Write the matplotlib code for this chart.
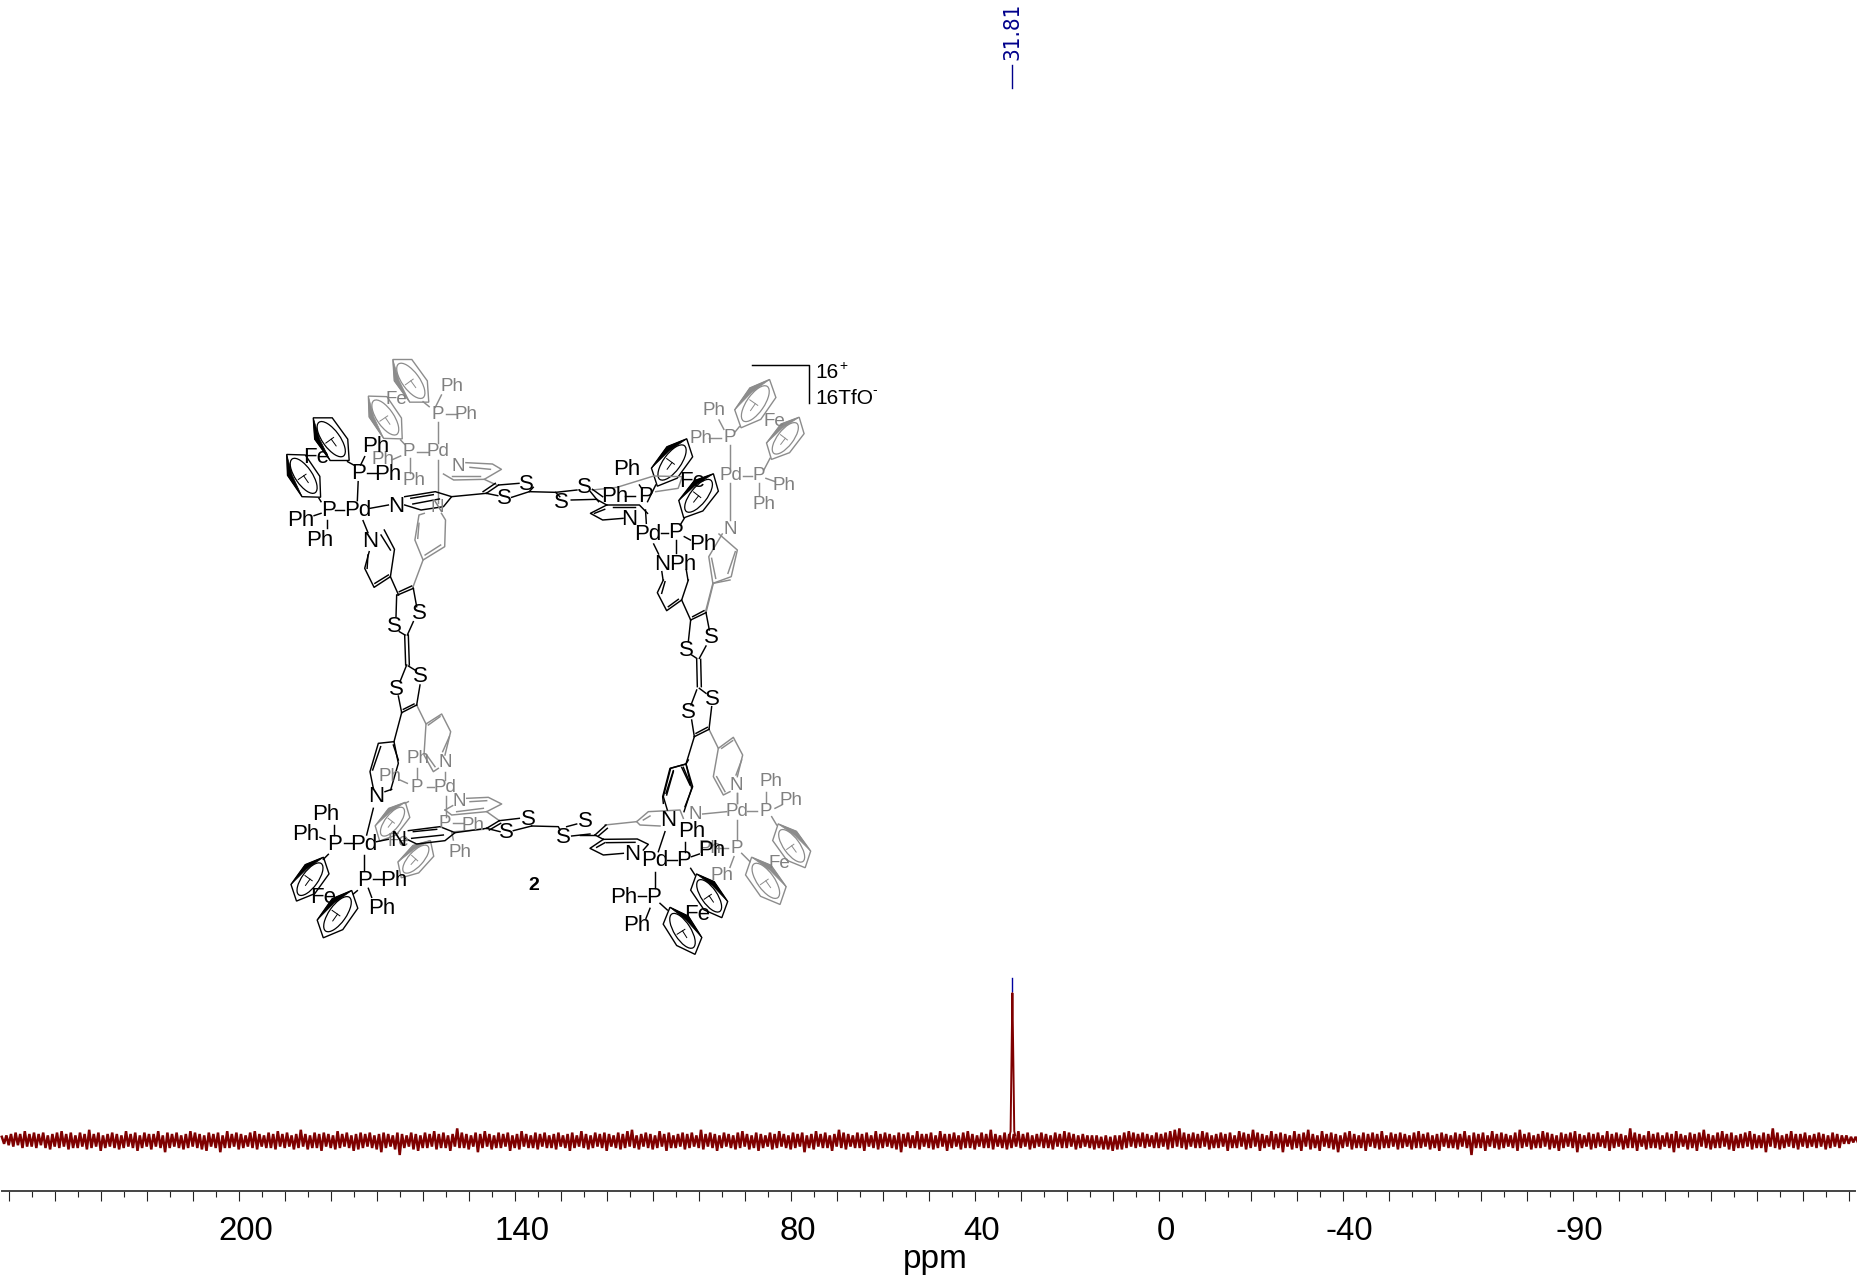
import numpy as np
import matplotlib
matplotlib.use('Agg')
import matplotlib.pyplot as plt
from matplotlib.patches import Ellipse, Polygon
from matplotlib.transforms import ScaledTranslation

plt.rcParams['font.family'] = ['Liberation Sans', 'DejaVu Sans']

# spectrum, one value every 0.5 ppm from 251.5 ppm on
start_ppm = 251.5
step_ppm = 0.5
noise = [
    3,-2,4,-3,5,-4,6,-3,5,-5,7,-4,5,-4,6,-5,5,-3,6,-5,4,-6,5,-4,6,-5,7,-4,5,-6,6,-5,4,-5,6,-4,5,-6,8,-5,
    5,-4,6,-7,4,-5,5,-4,6,-5,5,-6,4,-5,7,-4,5,-5,6,-7,4,-5,6,-4,5,-6,5,-4,7,-5,4,-8,6,-5,5,-4,6,-5,4,-6,
    5,-5,7,-4,6,-5,5,-6,4,-7,6,-4,5,-5,6,-8,4,-5,7,-5,5,-4,6,-6,5,-5,4,-4,6,-5,7,-6,5,-4,4,-5,6,-5,5,-6,
    7,-4,5,-5,6,-4,4,-6,5,-5,8,-4,5,-6,4,-5,6,-5,5,-7,6,-4,5,-5,4,-6,7,-5,5,-4,6,-5,4,-7,5,-6,6,-5,5,-4,
    6,-5,4,-6,5,-8,6,-5,5,-4,4,-6,6,-10,5,-5,4,-4,6,-6,5,-7,4,-5,6,-5,5,-4,7,-6,5,-5,6,-5,4,-7,5,-4,9,-5,
    6,-5,5,-6,4,-4,6,-8,5,-5,7,-4,5,-6,4,-5,6,-5,5,-4,6,-7,4,-5,5,-6,7,-4,5,-5,4,-5,6,-6,5,-4,6,-5,4,-5,
    5,-6,6,-4,4,-5,5,-7,6,-5,4,-4,7,-5,5,-6,4,-5,6,-4,5,-5,6,-7,5,-4,4,-5,6,-6,5,-5,7,-4,8,-5,4,-6,5,-4,
    6,-5,5,-6,4,-5,7,-4,5,-7,6,-5,4,-5,5,-4,6,-6,5,-5,6,-4,4,-5,8,-6,5,-4,6,-5,5,-7,4,-5,6,-4,5,-5,4,-6,
    6,-5,7,-4,5,-6,4,-5,6,-7,5,-5,4,-4,6,-6,5,-5,7,-4,5,-5,4,-6,6,-5,5,-4,6,-8,4,-5,5,-6,7,-4,5,-5,6,-5,
    4,-7,5,-4,8,-5,6,-6,5,-4,4,-5,6,-5,5,-7,6,-4,4,-5,7,-6,5,-5,6,-4,5,-5,4,-6,6,-8,5,-4,6,-5,4,-5,7,-6,
    5,-4,5,-5,6,-6,4,-5,7,-4,5,-7,5,-5,6,-4,4,-6,6,-5,7,-5,5,-6,4,-4,6,-5,5,-5,8,-6,5,-4,4,-5,6,-6,5,-5,
    5,-4,7,-5,5,-4,6,-6,4,-5,5,-4,6,-5,5,-5,4,-6,6,-4,5,-5,7,-5,6,-4,5,-6,4,-5,5,-4,4,-5,4,-6,4,-5,3,-6,
    4,-6,3,-7,4,-6,4,-6,6,-5,7,-4,6,-5,5,-4,6,-5,5,-4,4,-5,6,-5,5,-4,6,-6,7,-5,8,-4,9,-5,6,-6,5,-4,6,-5,
    5,-5,7,-4,6,-6,4,-5,5,-5,6,-4,5,-7,6,-5,4,-5,7,-4,6,-6,5,-5,8,-4,6,-7,5,-5,4,-4,7,-6,5,-5,6,-8,5,-4,
    4,-6,7,-5,5,-7,6,-4,8,-6,5,-5,4,-7,7,-4,5,-5,6,-6,5,-8,4,-5,6,-4,7,-6,5,-5,4,-5,6,-7,5,-4,6,-5,5,-6,
    7,-5,4,-5,6,-4,5,-6,6,-5,5,-4,4,-6,6,-5,7,-5,5,-4,6,-6,4,-5,5,-7,6,-4,5,-5,4,-5,6,-6,5,-4,7,-5,4,-10,
    6,-5,5,-5,6,-7,4,-4,7,-5,5,-6,6,-5,5,-4,4,-5,6,-7,8,-5,5,-4,6,-6,4,-5,5,-5,7,-4,6,-6,5,-5,4,-7,6,-5,
    5,-4,6,-5,7,-8,5,-5,4,-4,6,-6,5,-5,6,-4,4,-5,7,-7,5,-5,6,-4,5,-6,4,-5,9,-5,6,-7,5,-4,4,-6,7,-5,5,-5,
    6,-6,4,-4,6,-5,5,-8,7,-5,5,-4,4,-6,6,-5,5,-7,6,-4,8,-5,5,-6,4,-5,6,-5,7,-4,5,-6,6,-7,4,-5,5,-5,6,-4,
    7,-6,5,-5,4,-5,6,-8,5,-4,9,-5,6,-6,4,-5,5,-4,7,-5,5,-6,5,-4,6,-5,4,-4,5,-5,6,-4,5,-6,4,-5,6,-4,5,-5,
    4,-2,4,-2,3,-1,3,-1,
]
peak_ppm = [32.4, 32.2, 32.0, 31.81, 31.6, 31.4, 31.2]
peak_int = [4, 7, 57, 105.7, 57, 7, 4]
peak_label = '31.81'

major_ticks = np.arange(250, -151, -10)
minor_ticks = np.arange(245, -150, -10)
tick_labels = {200: '200', 140: '140', 80: '80', 40: '40', 0: '0', -40: '-40', -90: '-90'}

# structure drawing, (x, y) as in the crops: (origin x, origin y, x scale, y scale)
TOP = (270, 350, 2.45, 3)
LEFT = (270, 580, 3, 3)
BL = (270, 760, 3, 3)
BR = (580, 760, 3, 3)
RIGHT = (580, 580, 3, 3)

bracket = [(1182, 44), (1320, 44), (1320, 160)]

black_lines = [
    (TOP, [(216, 395), (214, 452)]), (TOP, [(160, 480), (182, 480)]), (TOP, [(245, 475), (290, 465)]),
    (TOP, [(228, 512), (240, 548)]), (TOP, [(222, 345), (232, 320)]), (TOP, [(238, 370), (262, 370)]),
    (TOP, [(140, 510), (140, 535)]), (TOP, [(108, 497), (125, 490)]), (TOP, [(125, 455), (120, 445)]),
    (TOP, [(205, 345), (190, 335)]),
    (TOP, [(330, 440), (405, 425), (445, 440), (425, 470), (370, 480), (330, 465)]),
    (TOP, [(350, 462), (415, 447)]), (TOP, [(345, 445), (400, 434)]),
    (TOP, [(445, 440), (530, 430)]), (TOP, [(530, 430), (560, 405)]), (TOP, [(522, 425), (552, 400)]),
    (TOP, [(560, 405), (610, 400)]), (TOP, [(530, 430), (558, 437)]),
    (TOP, [(592, 442), (635, 425), (700, 427), (710, 440)]), (TOP, [(645, 412), (635, 425)]),
    (TOP, [(700, 427), (752, 420)]), (TOP, [(738, 450), (800, 448)]), (TOP, [(790, 418), (815, 440)]),
    (TOP, [(785, 425), (805, 455)]), (TOP, [(800, 448), (825, 465)]),
    (TOP, [(825, 465), (905, 465), (925, 490)]), (TOP, [(840, 472), (895, 472)]),
    (TOP, [(825, 465), (785, 490), (815, 510), (865, 505)]), (TOP, [(795, 490), (820, 478)]),
    (TOP, [(920, 480), (922, 520)]), (TOP, [(905, 405), (912, 418)]), (TOP, [(870, 438), (895, 438)]),
    (TOP, [(958, 550), (975, 550)]), (TOP, [(995, 570), (995, 610)]), (TOP, [(1015, 560), (1030, 570)]),
    (TOP, [(940, 582), (952, 612)]), (TOP, [(1005, 525), (1015, 505)]), (TOP, [(925, 455), (945, 405)]),
    (TOP, [(960, 665), (963, 690)]), (TOP, [(1020, 660), (1024, 690)]),
    (LEFT, [(380, 45), (378, 110)]),
    (TOP, [(280, 540), (305, 598), (295, 680), (255, 712), (232, 655), (243, 605)]),
    (TOP, [(272, 555), (295, 600)]), (TOP, [(238, 655), (240, 615)]), (TOP, [(257, 700), (290, 675)]),
    (TOP, [(295, 680), (315, 735)]),
    (LEFT, [(383, 45), (430, 25)]), (LEFT, [(388, 35), (425, 18)]),
    (LEFT, [(430, 25), (440, 80)]), (LEFT, [(430, 125), (412, 165)]), (LEFT, [(388, 155), (405, 165)]),
    (LEFT, [(404, 165), (407, 255)]), (LEFT, [(415, 165), (418, 255)]),
    (LEFT, [(410, 255), (390, 305)]), (LEFT, [(415, 258), (438, 272)]),
    (LEFT, [(385, 348), (395, 398)]), (LEFT, [(450, 315), (440, 375)]),
    (LEFT, [(395, 398), (440, 375)]), (LEFT, [(400, 388), (432, 372)]),
    (LEFT, [(395, 398), (372, 485), (385, 550), (362, 630)]),
    (LEFT, [(372, 485), (325, 490), (300, 575), (310, 625)]),
    (LEFT, [(332, 500), (308, 570)]), (LEFT, [(370, 495), (385, 540)]), (LEFT, [(345, 635), (365, 628)]),
    (BL, [(310, 145), (290, 225)]), (BL, [(192, 195), (192, 225)]), (BL, [(150, 232), (165, 238)]),
    (BL, [(222, 250), (245, 250)]), (BL, [(282, 285), (282, 330)]), (BL, [(308, 358), (335, 358)]),
    (BL, [(295, 385), (305, 412)]), (BL, [(320, 245), (355, 238)]), (BL, [(175, 283), (160, 298)]),
    (BL, [(262, 392), (250, 402)]),
    (BL, [(415, 212), (510, 200), (555, 218), (525, 242), (440, 252), (405, 235)]),
    (BL, [(425, 235), (520, 225)]), (BL, [(430, 215), (500, 208)]),
    (BL, [(555, 218), (650, 205)]), (BL, [(650, 205), (688, 182)]), (BL, [(658, 210), (692, 190)]),
    (BL, [(688, 182), (748, 175)]), (BL, [(650, 205), (690, 215)]), (BL, [(730, 212), (785, 198)]),
    (BL, [(785, 198), (865, 200), (870, 210)]), (BL, [(890, 200), (920, 192)]), (BL, [(905, 228), (960, 222)]),
    (BR, [(0, 225), (45, 225)]), (BR, [(45, 225), (78, 195)]), (BR, [(55, 228), (82, 205)]),
    (BR, [(45, 225), (70, 238)]),
    (BR, [(70, 238), (172, 237), (205, 253), (190, 270)]), (BR, [(80, 248), (165, 247)]),
    (BR, [(70, 238), (30, 265), (70, 285), (130, 280)]), (BR, [(50, 262), (75, 248)]),
    (BR, [(255, 215), (235, 275)]), (BR, [(260, 300), (290, 300)]), (BR, [(315, 245), (315, 275)]),
    (BR, [(335, 290), (358, 282)]), (BR, [(225, 335), (225, 385)]), (BR, [(175, 408), (198, 408)]),
    (BR, [(210, 445), (198, 475)]), (BR, [(332, 325), (345, 345)]), (BR, [(240, 430), (262, 450)]),
    (BR, [(250, 130), (248, 110), (270, 25), (318, 12), (338, 80), (315, 140)]),
    (BR, [(260, 105), (280, 35)]), (BR, [(305, 22), (330, 75)]), (BR, [(318, 12), (325, 0)]),
    (RIGHT, [(250, 0), (232, 38), (260, 92), (305, 60), (325, 0)]), (RIGHT, [(245, 40), (255, 5)]),
    (RIGHT, [(265, 80), (295, 58)]), (RIGHT, [(305, 60), (332, 120)]),
    (RIGHT, [(332, 120), (378, 98)]), (RIGHT, [(338, 110), (372, 92)]),
    (RIGHT, [(332, 120), (325, 185)]), (RIGHT, [(378, 98), (388, 150)]),
    (RIGHT, [(378, 198), (358, 235)]), (RIGHT, [(335, 225), (350, 235)]),
    (RIGHT, [(350, 238), (352, 320)]), (RIGHT, [(362, 238), (364, 320)]),
    (RIGHT, [(358, 325), (378, 340)]), (RIGHT, [(350, 330), (333, 375)]),
    (RIGHT, [(335, 420), (343, 470)]), (RIGHT, [(395, 380), (387, 448)]),
    (RIGHT, [(343, 470), (387, 448)]), (RIGHT, [(348, 460), (382, 442)]),
    (RIGHT, [(343, 470), (318, 552), (335, 625), (312, 695)]),
    (RIGHT, [(318, 552), (272, 565), (250, 650), (262, 690)]),
    (RIGHT, [(280, 572), (258, 640)]), (RIGHT, [(310, 562), (332, 615)]),
]

gray_lines = [
    (TOP, [(412, 215), (412, 280)]), (TOP, [(360, 305), (388, 305)]), (TOP, [(342, 325), (342, 370)]),
    (TOP, [(320, 318), (298, 330)]), (TOP, [(405, 172), (420, 135)]), (TOP, [(430, 193), (458, 193)]),
    (TOP, [(412, 330), (412, 460)]), (TOP, [(390, 170), (375, 155)]), (TOP, [(330, 283), (320, 270)]),
    (TOP, [(425, 372), (450, 390), (525, 388), (567, 358), (545, 342), (480, 338)]),
    (TOP, [(490, 352), (540, 358)]), (TOP, [(445, 378), (515, 378)]), (TOP, [(525, 388), (555, 405)]),
    (TOP, [(378, 490), (365, 495), (355, 570), (375, 630), (428, 590), (430, 510), (420, 490)]),
    (TOP, [(365, 520), (362, 565)]), (TOP, [(380, 615), (418, 585)]), (TOP, [(375, 630), (350, 712)]),
    (TOP, [(1128, 285), (1128, 355)]), (TOP, [(1128, 398), (1128, 510)]), (TOP, [(1160, 377), (1180, 377)]),
    (TOP, [(1198, 400), (1198, 435)]), (TOP, [(1215, 385), (1238, 395)]), (TOP, [(1075, 263), (1105, 263)]),
    (TOP, [(1112, 238), (1100, 210)]), (TOP, [(1140, 245), (1150, 230)]), (TOP, [(1210, 360), (1225, 325)]),
    (TOP, [(1100, 552), (1145, 600), (1130, 680), (1085, 700), (1075, 620), (1108, 552)]),
    (TOP, [(1140, 605), (1122, 670)]), (TOP, [(1082, 625), (1092, 685)]), (TOP, [(1085, 700), (1067, 785)]),
    (TOP, [(790, 420), (850, 412), (940, 378), (1010, 380), (1000, 415), (945, 425)]),
    (LEFT, [(440, 375), (468, 432), (515, 402), (542, 455), (525, 525)]),
    (LEFT, [(468, 432), (462, 525), (490, 575), (505, 565)]), (LEFT, [(475, 435), (510, 410)]),
    (LEFT, [(538, 470), (518, 515)]), (LEFT, [(470, 525), (495, 560)]),
    (LEFT, [(470, 622), (492, 622)]), (LEFT, [(440, 565), (440, 595)]), (LEFT, [(390, 600), (412, 610)]),
    (LEFT, [(525, 575), (525, 600)]),
    (BL, [(527, 108), (527, 170)]), (BL, [(550, 190), (578, 190)]), (BL, [(545, 215), (550, 240)]),
    (BL, [(415, 125), (405, 130)]), (BL, [(525, 150), (545, 165), (650, 155), (695, 132), (655, 112), (590, 115)]),
    (BL, [(525, 150), (548, 137)]), (BL, [(560, 155), (640, 145)]), (BL, [(600, 125), (650, 122)]),
    (BL, [(650, 155), (688, 182)]), (BL, [(555, 215), (640, 208)]),
    (BR, [(75, 195), (170, 185), (205, 155), (300, 150), (310, 175)]),
    (BR, [(170, 185), (180, 195), (240, 198)]), (BR, [(190, 180), (210, 168)]),
    (BR, [(368, 162), (440, 155)]), (BR, [(500, 152), (530, 152)]), (BR, [(557, 125), (557, 95)]),
    (BR, [(585, 145), (605, 135)]), (BR, [(472, 100), (472, 130)]), (BR, [(472, 180), (472, 240)]),
    (BR, [(410, 265), (445, 265)]), (BR, [(462, 290), (450, 322)]), (BR, [(575, 170), (590, 195)]),
    (BR, [(485, 280), (510, 305)]),
    (RIGHT, [(387, 448), (415, 505), (460, 472), (488, 525), (472, 590)]),
    (RIGHT, [(415, 505), (400, 590), (430, 645), (450, 635)]), (RIGHT, [(425, 505), (458, 482)]),
    (RIGHT, [(485, 540), (468, 585)]), (RIGHT, [(410, 590), (435, 635)]),
    (RIGHT, [(378, 98), (400, 10), (450, 0)]), (RIGHT, [(472, 640), (472, 668)]),
]

black_labels = [
    (TOP, 258, 288, 'Ph'), (TOP, 218, 370, 'P'), (TOP, 288, 372, 'Ph'), (TOP, 112, 322, 'Fe'),
    (TOP, 143, 480, 'P'), (TOP, 215, 482, 'Pd'), (TOP, 75, 512, 'Ph'), (TOP, 123, 572, 'Ph'),
    (TOP, 308, 468, 'N'), (TOP, 245, 575, 'N'), (TOP, 628, 402, 'S'), (TOP, 575, 445, 'S'),
    (TOP, 715, 458, 'S'), (TOP, 770, 412, 'S'), (TOP, 875, 358, 'Ph'), (TOP, 845, 440, 'Ph'),
    (TOP, 920, 438, 'P'), (TOP, 1035, 395, 'Fe'), (TOP, 880, 508, 'N'), (TOP, 925, 552, 'Pd'),
    (TOP, 993, 548, 'P'), (TOP, 1060, 582, 'Ph'), (TOP, 960, 642, 'N'), (TOP, 1012, 642, 'Ph'),
    (LEFT, 447, 100, 'S'), (LEFT, 373, 140, 'S'), (LEFT, 452, 290, 'S'), (LEFT, 378, 328, 'S'),
    (BL, 320, 110, 'N'), (BL, 280, 255, 'Pd'), (BL, 193, 252, 'P'), (BL, 168, 165, 'Ph'),
    (BL, 108, 222, 'Ph'), (BL, 285, 362, 'P'), (BL, 370, 362, 'Ph'), (BL, 335, 447, 'Ph'),
    (BL, 158, 412, 'Fe'), (BL, 385, 240, 'N'), (BL, 775, 178, 'S'), (BL, 708, 218, 'S'),
    (BL, 880, 232, 'S'), (BL, 945, 185, 'S'),
    (BR, 265, 183, 'N'), (BR, 225, 303, 'Pd'), (BR, 312, 300, 'P'), (BR, 335, 215, 'Ph'),
    (BR, 395, 272, 'Ph'), (BR, 222, 413, 'P'), (BR, 130, 413, 'Ph'), (BR, 170, 497, 'Ph'),
    (BR, 158, 282, 'N'), (BR, 350, 462, 'Fe'),
    (RIGHT, 395, 172, 'S'), (RIGHT, 320, 210, 'S'), (RIGHT, 398, 358, 'S'), (RIGHT, 325, 398, 'S'),
]

gray_labels = [
    (TOP, 447, 110, 'Ph'), (TOP, 412, 193, 'P'), (TOP, 480, 193, 'Ph'), (TOP, 310, 148, 'Fe'),
    (TOP, 340, 305, 'P'), (TOP, 412, 305, 'Pd'), (TOP, 278, 330, 'Ph'), (TOP, 352, 392, 'Ph'),
    (TOP, 460, 350, 'N'), (TOP, 410, 472, 'N'), (TOP, 1088, 182, 'Ph'), (TOP, 1055, 265, 'Ph'),
    (TOP, 1127, 263, 'P'), (TOP, 1235, 215, 'Fe'), (TOP, 1130, 377, 'Pd'), (TOP, 1198, 377, 'P'),
    (TOP, 1260, 405, 'Ph'), (TOP, 1210, 463, 'Ph'), (TOP, 1127, 537, 'N'),
    (LEFT, 525, 548, 'N'), (LEFT, 440, 622, 'P'), (LEFT, 525, 622, 'Pd'), (LEFT, 445, 535, 'Ph'),
    (LEFT, 360, 590, 'Ph'), (BL, 568, 125, 'N'), (BL, 525, 190, 'P'), (BL, 610, 195, 'Ph'),
    (BL, 570, 278, 'Ph'), (BL, 385, 245, 'Fe'),
    (BR, 345, 163, 'N'), (BR, 472, 155, 'Pd'), (BR, 557, 155, 'P'), (BR, 573, 65, 'Ph'),
    (BR, 633, 122, 'Ph'), (BR, 470, 75, 'N'), (BR, 470, 265, 'P'), (BR, 425, 348, 'Ph'),
    (BR, 390, 265, 'Ph'), (BR, 597, 312, 'Fe'),
]

# cyclopentadienyl rings: both tips of the long axis, side of the thick edge
black_rings = [
    (TOP, (110, 200), (190, 335), 1), (TOP, (45, 310), (120, 445), 1),
    (TOP, (1025, 270), (945, 405), 1), (TOP, (1090, 375), (1010, 500), 1),
    (BL, (165, 295), (75, 420), 1), (BL, (250, 395), (155, 530), 1),
    (BR, (345, 345), (430, 470), -1), (BR, (265, 445), (350, 580), -1),
]
gray_rings = [
    (TOP, (305, 25), (385, 160), 1), (TOP, (245, 135), (320, 270), 1),
    (TOP, (1228, 92), (1150, 230), 1), (TOP, (1300, 205), (1225, 325), 1),
    (BL, (410, 130), (325, 240), 1), (BL, (485, 245), (390, 350), 1),
    (BR, (590, 195), (680, 320), -1), (BR, (510, 295), (605, 430), -1),
]


def to_px(crop, pts):
    ox, oy, sx, sy = crop
    return [(ox + x / sx, oy + y / sy) for x, y in pts]


def draw_ring(ax, crop, tip1, tip2, side, color):
    p1, p2 = np.array(to_px(crop, [tip1, tip2]))
    c = (p1 + p2) / 2
    u = (p2 - p1) / 2
    v = np.array([-u[1], u[0]]) * 0.48
    shape = [(-1, 0.15), (-0.35, 1), (0.6, 1), (1, -0.15), (0.35, -1), (-0.6, -1)]
    pts = np.array([c + a * u + b * side * v for a, b in shape])
    ax.add_patch(Polygon(pts, closed=True, fill=False, ec=color, lw=1.0))
    # thick front edge of the ring
    mid = pts[1] + 0.1 * u - 0.3 * side * v
    ax.add_patch(Polygon([pts[0], pts[1], pts[2], mid], closed=True, fc=color, ec=color, lw=0.5))
    ang = np.degrees(np.arctan2(u[1], u[0]))
    ax.add_patch(Ellipse(c, 1.5 * np.hypot(*u), 1.3 * np.hypot(*v), angle=ang,
                         fill=False, ec=color, lw=0.9))
    ax.plot([c[0] - 0.22 * v[0], c[0] + 0.5 * v[0]], [c[1] - 0.22 * v[1], c[1] + 0.5 * v[1]], color=color, lw=0.7)
    ax.plot([c[0], c[0] + 0.3 * u[0]], [c[1], c[1] + 0.3 * u[1]], color=color, lw=0.7)


fig = plt.figure(figsize=(18.58, 12.79), dpi=100)
ax = fig.add_axes([0, 0, 1, 1])

px_unit = 1.4  # picture pixels per intensity unit
base_y = 1141


def y_at(py):
    return (base_y - py) / px_unit


ppm = start_ppm - step_ppm * np.arange(len(noise))
ax.plot(ppm, noise, color='#7f0000', lw=1.8, solid_joinstyle='miter')
ax.plot(peak_ppm, peak_int, color='#7f0000', lw=1.4)
ax.plot([31.81, 31.81], [y_at(991), y_at(978)], color='#0000a0', lw=1.0)
ax.plot([31.81, 31.81], [y_at(88), y_at(65)], color='#00008b', lw=1.0)
ax.text(31.81, y_at(60), peak_label, rotation=90, ha='center', va='bottom', color='#00008b',
        fontsize=16, family='DejaVu Sans', fontstretch='condensed')

ax.set_xlim(1158.7 / 4.6, (1158.7 - 1858) / 4.6)
ax.set_ylim(y_at(1279), y_at(0))
for s in ['top', 'left', 'right']:
    ax.spines[s].set_visible(False)
ax.spines['bottom'].set_position(('data', y_at(1191)))
ax.spines['bottom'].set_bounds(251.5, -151.3)
ax.spines['bottom'].set_color('#444444')
ax.spines['bottom'].set_linewidth(1.4)
ax.set_yticks([])
ax.set_xticks(major_ticks, labels=[tick_labels.get(int(t), '') for t in major_ticks])
ax.set_xticks(minor_ticks, minor=True)
ax.tick_params(axis='x', which='major', length=7.5, width=0.8, color='#222222', labelsize=23.8, pad=10.5)
ax.tick_params(axis='x', which='minor', length=4.5, width=0.8, color='#222222')
shift = ScaledTranslation(7 / 100, 0, fig.dpi_scale_trans)
for lab in ax.get_xticklabels():
    lab.set_transform(lab.get_transform() + shift)
ax.text(48.6, y_at(1268), 'ppm', fontsize=24, ha='center', va='baseline')

# molecule drawn on top, in picture pixels
mol = fig.add_axes([0, 0, 1, 1])
mol.set_xlim(0, 1858)
mol.set_ylim(1279, 0)
mol.axis('off')
mol.patch.set_visible(False)

for crop, pts in gray_lines:
    xs, ys = zip(*to_px(crop, pts))
    mol.plot(xs, ys, color='#8c8c8c', lw=1.05)
for crop, t1, t2, side in gray_rings:
    draw_ring(mol, crop, t1, t2, side, '#8c8c8c')
for crop, x, y, txt in gray_labels:
    (px, py), = to_px(crop, [(x, y)])
    mol.text(px, py, txt, color='#808080', fontsize=13.5, ha='center', va='center')
for crop, pts in black_lines:
    xs, ys = zip(*to_px(crop, pts))
    mol.plot(xs, ys, color='black', lw=1.05)
for crop, t1, t2, side in black_rings:
    draw_ring(mol, crop, t1, t2, side, 'black')
for crop, x, y, txt in black_labels:
    (px, py), = to_px(crop, [(x, y)])
    mol.text(px, py, txt, color='black', fontsize=16, ha='center', va='center')

xs, ys = zip(*to_px(TOP, bracket))
mol.plot(xs, ys, color='black', lw=1.05)
mol.text(815, 373, '16', fontsize=15, va='center')
mol.text(839, 366, '+', fontsize=10, va='center')
mol.text(815, 398, '16TfO', fontsize=15, va='center')
mol.text(872, 390, '-', fontsize=10, va='center')
mol.text(534, 886, '2', fontsize=14, fontweight='bold', ha='center', va='center')

plt.savefig('out.png', dpi=100)
